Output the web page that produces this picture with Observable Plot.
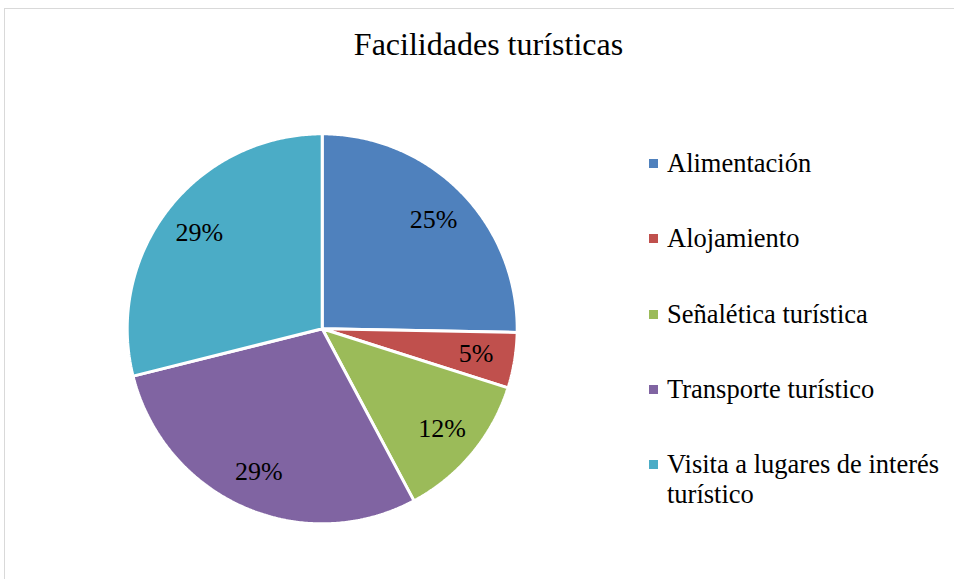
<!DOCTYPE html>
<html>
<head>
<meta charset="utf-8">
<script src="https://cdn.jsdelivr.net/npm/d3@7"></script>
<script src="https://cdn.jsdelivr.net/npm/@observablehq/plot@0.6"></script>
<style>
  html, body { margin: 0; padding: 0; background: #fff; overflow: hidden; }
  body { width: 954px; height: 579px; position: relative; font-family: "Liberation Serif", "Times New Roman", "DejaVu Serif", serif; }
  #frame { position: absolute; left: 4px; top: 8px; width: 1200px; height: 800px; border: 1px solid #d9d9d9; box-sizing: border-box; }
  #chart { position: absolute; left: 0; top: 0; }
  #title { position: absolute; left: 0; width: 977px; top: 24px; text-align: center; font-size: 32px; line-height: 40px; color: #000; font-family: "Liberation Serif", "Times New Roman", serif; }
  .row { position: absolute; left: 649px; width: 300px; height: 30px; }
  .sw { position: absolute; left: 0; width: 9px; height: 9px; }
  .lab { position: absolute; left: 18px; top: 0; width: 285px; font-size: 26.5px; line-height: 30px; color: #000; white-space: normal; font-family: "Liberation Serif", "Times New Roman", serif !important; }
  #chart text { font-family: "Liberation Serif", "Times New Roman", serif !important; }
</style>
</head>
<body>
<div id="frame"></div>
<div id="chart"></div>
<div id="title">Facilidades turísticas</div>
<div id="legend"></div>
<script>
const categories = ["Alimentación", "Alojamiento", "Señalética turística", "Transporte turístico", "Visita a lugares de interés turístico"];
const values = [25.3, 4.6, 12.3, 28.9, 28.9];
const colors = ["#4F81BD", "#C0504D", "#9BBB59", "#8064A2", "#4BACC6"];
const labels = ["25%", "5%", "12%", "29%", "29%"];

const arcs = d3.pie().sort(null).value(d => d)(values);

// slice outlines (geometry derived from the pie angles)
const pts = [];
arcs.forEach((a, i) => {
  const cat = categories[i];
  pts.push({cat, x: 0, y: 0});
  const n = Math.max(8, Math.ceil((a.endAngle - a.startAngle) / (Math.PI / 360)));
  for (let k = 0; k <= n; k++) {
    const t = a.startAngle + (a.endAngle - a.startAngle) * k / n;
    pts.push({cat, x: Math.sin(t), y: Math.cos(t)});
  }
  pts.push({cat, x: 0, y: 0});
});

const labelPts = arcs.map((a, i) => {
  const m = (a.startAngle + a.endAngle) / 2;
  return {cat: categories[i], text: labels[i], x: 0.8 * Math.sin(m), y: 0.8 * Math.cos(m)};
});

const plot = Plot.plot({
  width: 954,
  height: 579,
  margin: 0,
  x: {domain: [-1, 1], range: [126.7, 516.7], axis: null},
  y: {domain: [-1, 1], range: [523.3, 133.3], axis: null},
  color: {domain: categories, range: colors},
  style: {background: "transparent", overflow: "visible", fontFamily: "Liberation Serif, Times New Roman, serif"},
  marks: [
    Plot.line(pts, {x: "x", y: "y", z: "cat", fill: "cat", stroke: "white", strokeWidth: 3, strokeLinejoin: "miter", curve: "linear"}),
    Plot.text(labelPts, {x: "x", y: "y", text: "text", fill: "black", fontSize: 26, fontFamily: "Liberation Serif", textAnchor: "middle", lineAnchor: "middle"})
  ]
});
document.getElementById("chart").appendChild(plot);

const centers = [163, 238.5, 314, 389, 464];
const legend = document.getElementById("legend");
categories.forEach((c, i) => {
  const row = document.createElement("div");
  row.className = "row";
  const top = centers[i] - 15.5;
  row.style.top = top + "px";
  const sw = document.createElement("div");
  sw.className = "sw";
  sw.style.background = colors[i];
  sw.style.top = (centers[i] - top - 4.5) + "px";
  const lab = document.createElement("div");
  lab.className = "lab";
  lab.textContent = c;
  row.appendChild(sw);
  row.appendChild(lab);
  legend.appendChild(row);
});
</script>
</body>
</html>
